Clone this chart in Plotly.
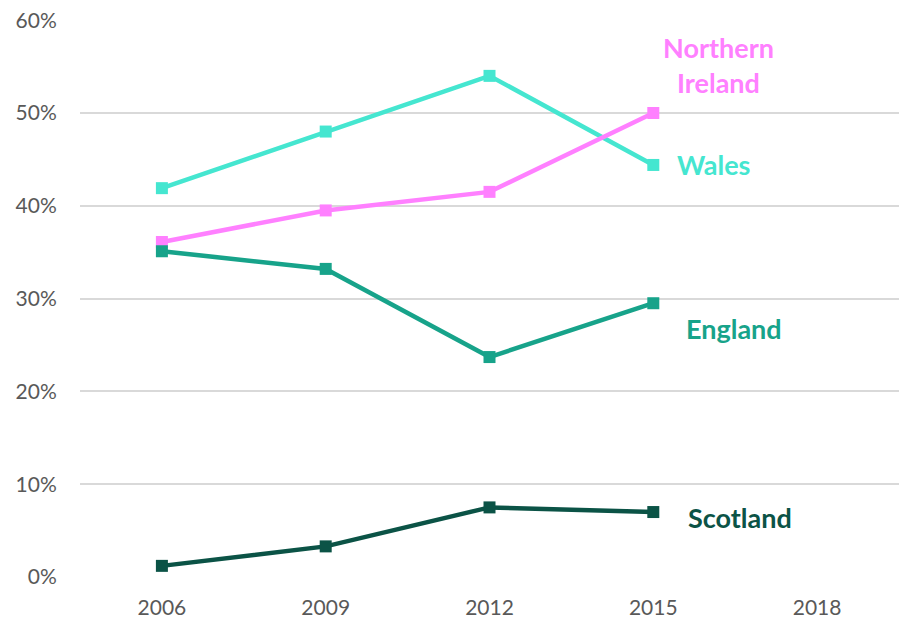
import plotly.graph_objects as go

years = ["2006", "2009", "2012", "2015", "2018"]
wales = [41.9, 48.0, 54.0, 44.4]
northern_ireland = [36.1, 39.5, 41.5, 50.0]
england = [35.1, 33.2, 23.7, 29.5]
scotland = [1.2, 3.3, 7.5, 7.0]
y_ticks = [0, 10, 20, 30, 40, 50, 60]
y_tick_labels = ["0%", "10%", "20%", "30%", "40%", "50%", "60%"]

series = [
    ("Wales", wales, "#45E6D0"),
    ("Northern<br>Ireland", northern_ireland, "#FF80FF"),
    ("England", england, "#17A38A"),
    ("Scotland", scotland, "#0B5346"),
]
# label positions (x in category index units, y in data units)
label_pos = {
    "Wales": (3.37, 44.4),
    "Northern<br>Ireland": (3.40, 55.2),
    "England": (3.49, 26.8),
    "Scotland": (3.53, 6.4),
}

fig = go.Figure()
for name, vals, col in series:
    fig.add_trace(go.Scatter(
        x=years[:len(vals)], y=vals, mode="lines+markers",
        line=dict(color=col, width=4.5),
        marker=dict(symbol="square", size=12, color=col),
        name=name, showlegend=False, cliponaxis=False,
    ))
    lx, ly = label_pos[name]
    fig.add_annotation(x=lx, y=ly, xref="x", yref="y", text="<b>" + name + "</b>",
                       showarrow=False, font=dict(family="Lato, Carlito, sans-serif", size=27, color=col),
                       xanchor="center", yanchor="middle", align="center")

fig.update_layout(
    width=899, height=624,
    margin=dict(l=80, r=0, t=20, b=47),
    plot_bgcolor="white", paper_bgcolor="white",
    font=dict(family="Lato, Carlito, sans-serif", size=21, color="#595959"),
    xaxis=dict(type="category", categoryorder="array", categoryarray=years,
               range=[-0.5, 4.5], showgrid=False, zeroline=False, showline=False,
               ticks="outside", ticklen=12, tickcolor="rgba(0,0,0,0)",
               tickfont=dict(size=21, color="#595959")),
    yaxis=dict(range=[0, 60.02], tickmode="array", tickvals=y_ticks, ticktext=y_tick_labels,
               showgrid=True, gridcolor="#D9D9D9", gridwidth=2, zeroline=False, showline=False,
               ticks="outside", ticklen=18, tickcolor="rgba(0,0,0,0)",
               tickfont=dict(size=21, color="#595959")),
)
fig.write_html("out.html", config={"displayModeBar": False},
               post_script="document.body.style.margin='0';document.body.style.overflow='hidden';"
                           "document.documentElement.style.overflow='hidden';")
